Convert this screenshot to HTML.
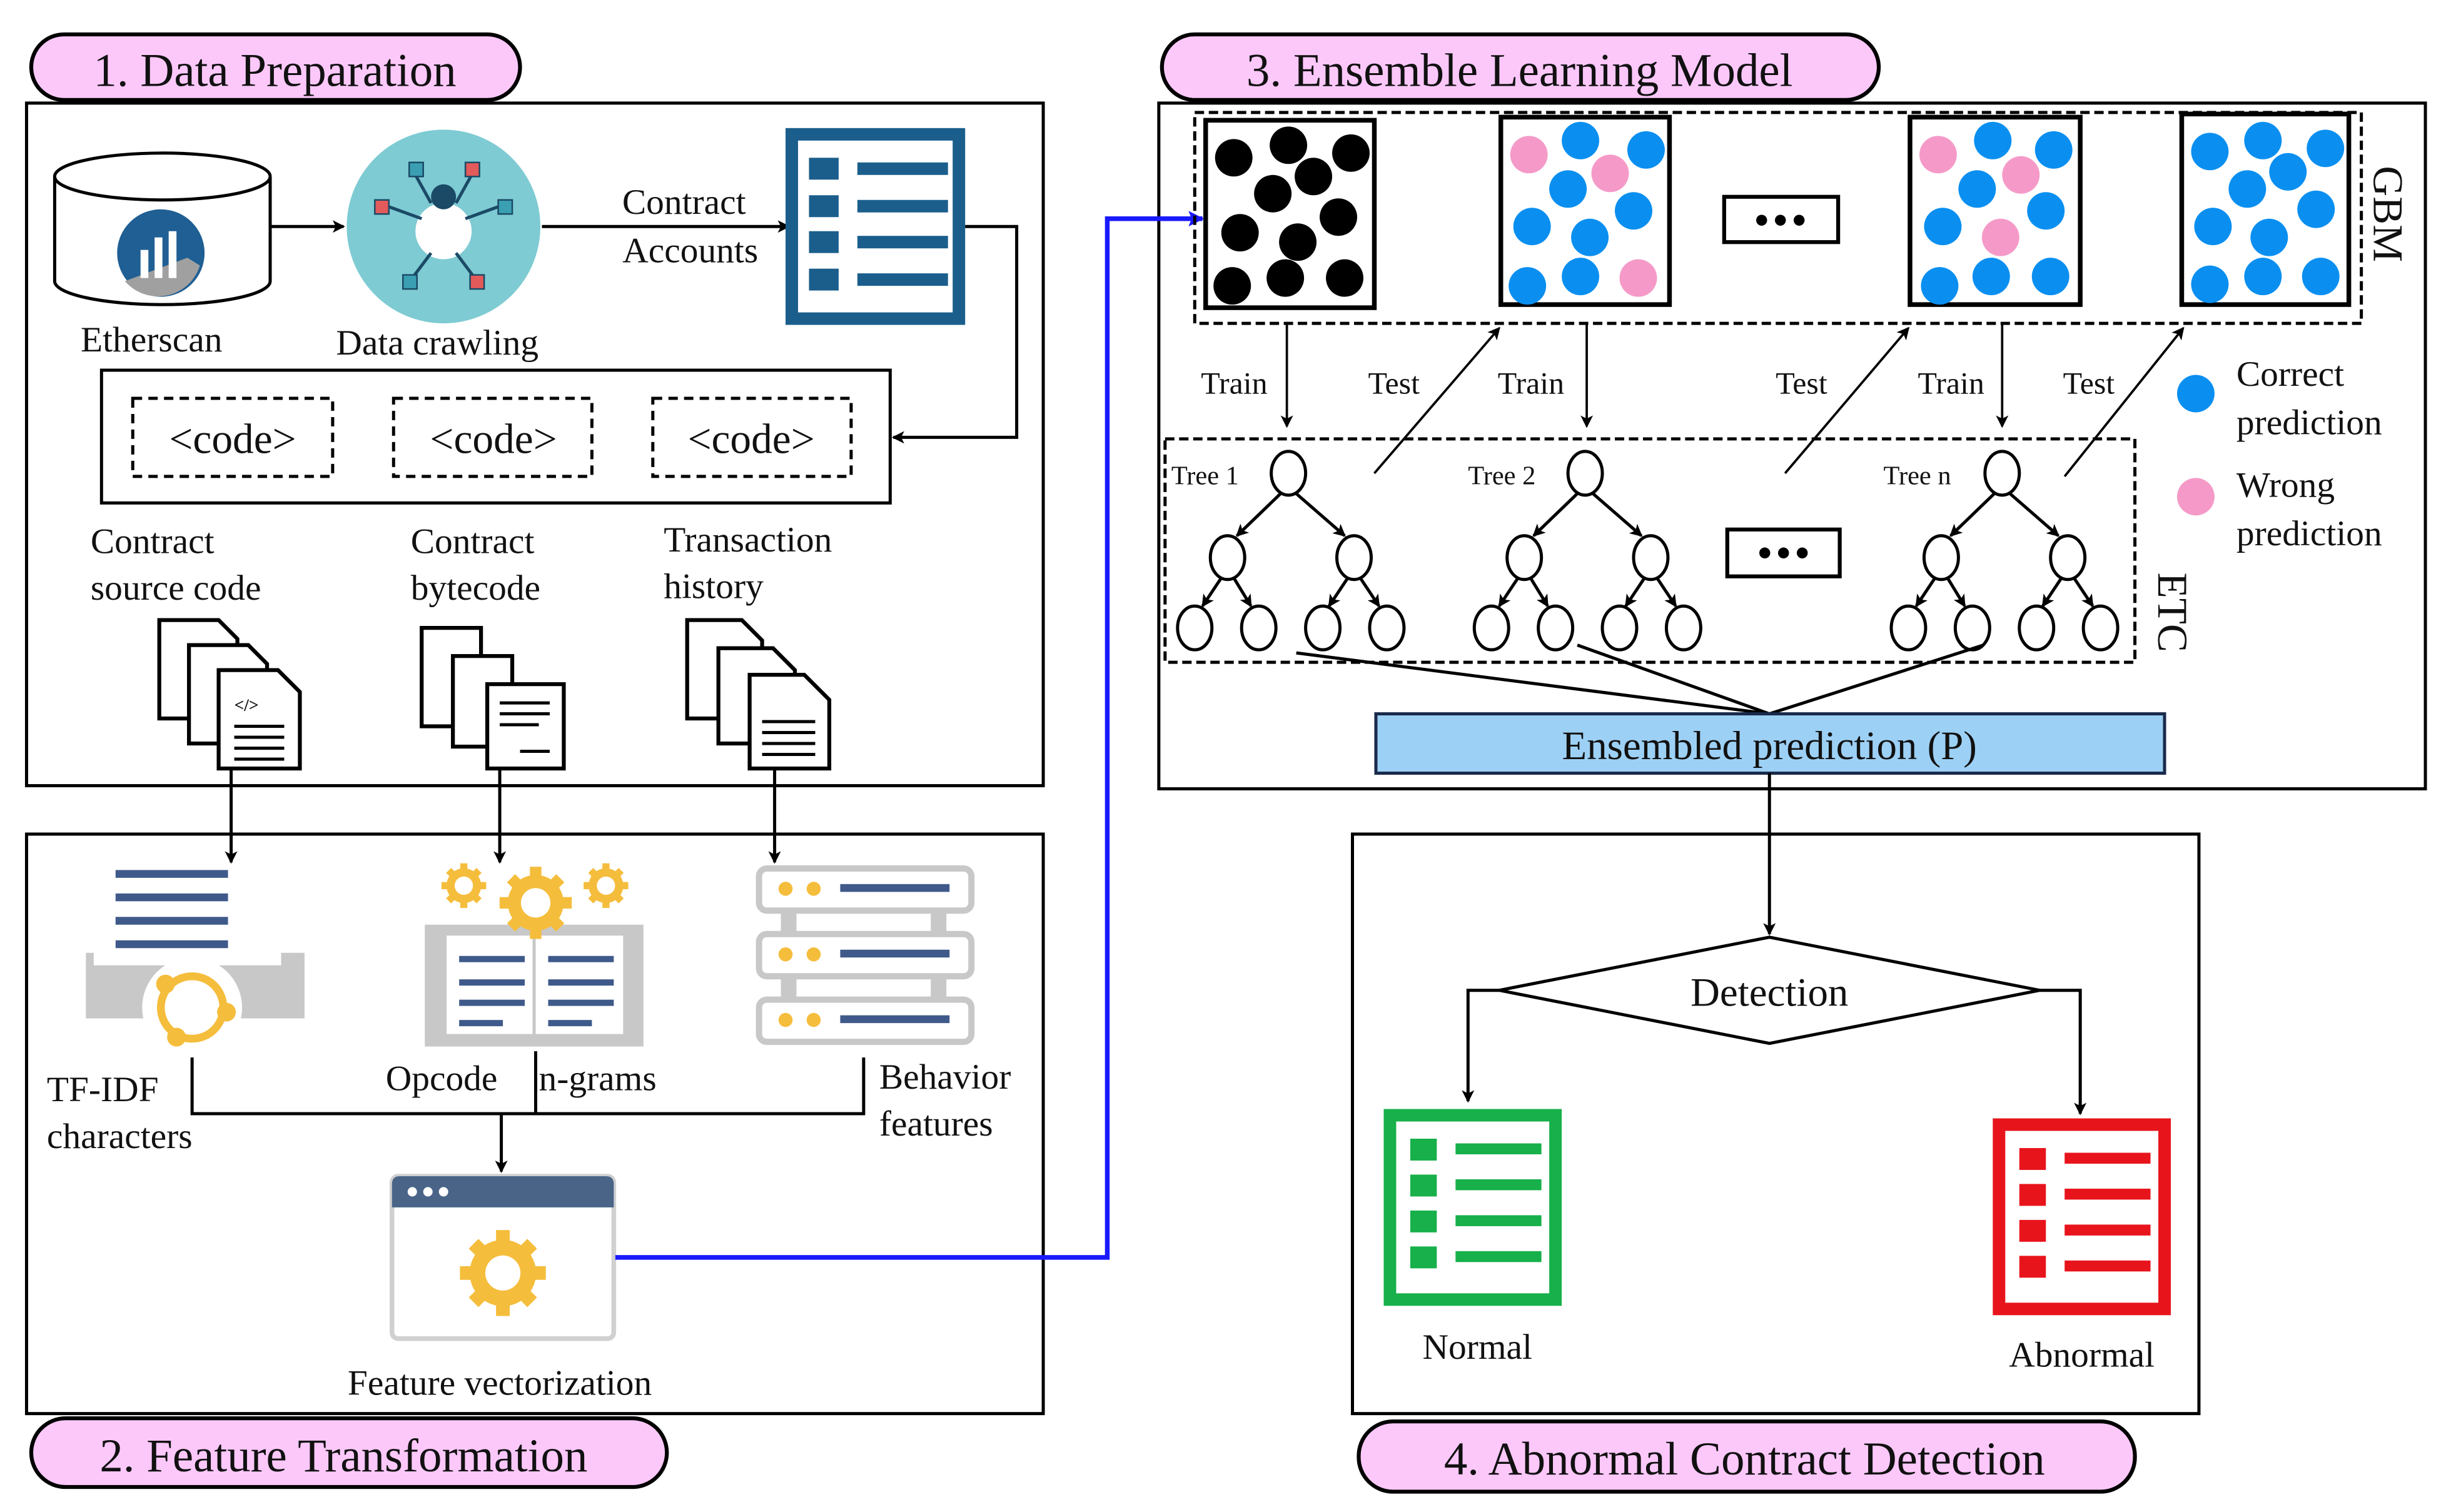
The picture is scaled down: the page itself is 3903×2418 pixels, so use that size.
<!DOCTYPE html>
<html><head><meta charset="utf-8"><style>
html,body{margin:0;padding:0;background:#fff;}
svg{display:block;}
text{font-family:"Liberation Serif",serif;fill:#111;}
</style></head><body>
<svg width="3903" height="2418" viewBox="0 0 1563 968" preserveAspectRatio="none" xmlns="http://www.w3.org/2000/svg">
<defs>
<marker id="a" markerWidth="8" markerHeight="8" refX="7" refY="4" orient="auto" markerUnits="userSpaceOnUse"><path d="M0,0 L8,4 L0,8 L2,4 z" fill="#000"/></marker>
<marker id="ab" markerWidth="10" markerHeight="10" refX="9" refY="5" orient="auto" markerUnits="userSpaceOnUse"><path d="M0,0 L10,5 L0,10 L2,5 z" fill="#1a1aff"/></marker>
<g id="gear"><circle r="13" fill="none" stroke="#f5bd3c" stroke-width="8"/><g stroke="#f5bd3c" stroke-width="7"><line x1="0" y1="-22" x2="0" y2="22"/><line x1="-22" y1="0" x2="22" y2="0"/><line x1="-15" y1="-15" x2="15" y2="15"/><line x1="-15" y1="15" x2="15" y2="-15"/></g><circle r="9" fill="#fff"/></g>
</defs>

<!-- Boxes -->
<rect x="17" y="66" width="651" height="437" fill="none" stroke="#000" stroke-width="2"/>
<rect x="17" y="534" width="651" height="371" fill="none" stroke="#000" stroke-width="2"/>
<rect x="742" y="66" width="811" height="439" fill="none" stroke="#000" stroke-width="2"/>
<rect x="866" y="534" width="542" height="371" fill="none" stroke="#000" stroke-width="2"/>

<!-- Titles -->
<rect x="20" y="22" width="313" height="42" rx="21" fill="#fcc8fa" stroke="#000" stroke-width="2.5"/>
<text x="176" y="55" font-size="30" text-anchor="middle">1. Data Preparation</text>
<rect x="744" y="22" width="459" height="42" rx="21" fill="#fcc8fa" stroke="#000" stroke-width="2.5"/>
<text x="973" y="55" font-size="30" text-anchor="middle">3. Ensemble Learning Model</text>
<rect x="20" y="908" width="407" height="44" rx="22" fill="#fcc8fa" stroke="#000" stroke-width="2.5"/>
<text x="220" y="942" font-size="30" text-anchor="middle">2. Feature Transformation</text>
<rect x="870" y="910" width="497" height="45" rx="22" fill="#fcc8fa" stroke="#000" stroke-width="2.5"/>
<text x="1117" y="944" font-size="30" text-anchor="middle">4. Abnormal Contract Detection</text>

<!-- Section 1 -->
<path d="M35,113 L35,180 A69,15 0 0 0 173,180 L173,113" fill="#fff" stroke="#000" stroke-width="2"/>
<ellipse cx="104" cy="113" rx="69" ry="15" fill="#fff" stroke="#000" stroke-width="2"/>
<circle cx="103" cy="162" r="28" fill="#1f5f93"/>
<path d="M80,180 A28,28 0 0 0 128,170 L120,165 Z" fill="#a0a0a0"/>
<rect x="90" y="160" width="5" height="18" fill="#fff"/><rect x="99" y="152" width="5" height="26" fill="#fff"/><rect x="108" y="148" width="5" height="30" fill="#fff"/>
<text x="97" y="225" font-size="23" text-anchor="middle">Etherscan</text>
<line x1="173" y1="145" x2="220" y2="145" stroke="#000" stroke-width="2" marker-end="url(#a)"/>
<circle cx="284" cy="145" r="62" fill="#7ecbd3"/>
<circle cx="284" cy="148" r="18" fill="#fff"/><circle cx="284" cy="126" r="8" fill="#1b4a66"/>
<g stroke="#1b4a66" stroke-width="2" fill="none"><path d="M270,140 L248,132"/><path d="M298,140 L320,132"/><path d="M276,130 L266,112"/><path d="M292,130 L302,112"/><path d="M276,162 L264,178"/><path d="M292,162 L304,178"/></g>
<rect x="262" y="104" width="9" height="9" fill="#3a9fb2" stroke="#1b4a66"/><rect x="298" y="104" width="9" height="9" fill="#e35a5a" stroke="#1b4a66"/>
<rect x="240" y="128" width="9" height="9" fill="#e35a5a" stroke="#1b4a66"/><rect x="319" y="128" width="9" height="9" fill="#3a9fb2" stroke="#1b4a66"/>
<rect x="258" y="176" width="9" height="9" fill="#3a9fb2" stroke="#1b4a66"/><rect x="301" y="176" width="9" height="9" fill="#e35a5a" stroke="#1b4a66"/>
<text x="280" y="227" font-size="23" text-anchor="middle">Data crawling</text>
<line x1="347" y1="145" x2="505" y2="145" stroke="#000" stroke-width="2" marker-end="url(#a)"/>
<text x="438" y="137" font-size="23" text-anchor="middle">Contract</text>
<text x="442" y="168" font-size="23" text-anchor="middle">Accounts</text>
<rect x="507" y="86" width="107" height="118" fill="#fff" stroke="#1b5e8c" stroke-width="8"/>
<g fill="#1b5e8c"><rect x="518" y="101" width="19" height="14"/><rect x="549" y="104" width="58" height="8"/><rect x="518" y="125" width="19" height="14"/><rect x="549" y="128" width="58" height="8"/><rect x="518" y="148" width="19" height="14"/><rect x="549" y="151" width="58" height="8"/><rect x="518" y="172" width="19" height="14"/><rect x="549" y="175" width="58" height="8"/></g>
<polyline points="618,145 651,145 651,280 572,280" fill="none" stroke="#000" stroke-width="2" marker-end="url(#a)"/>
<rect x="65" y="237" width="505" height="85" fill="none" stroke="#000" stroke-width="2"/>
<g fill="none" stroke="#000" stroke-width="2" stroke-dasharray="6,4"><rect x="85" y="255" width="128" height="50"/><rect x="252" y="255" width="127" height="50"/><rect x="418" y="255" width="127" height="50"/></g>
<text x="149" y="290" font-size="27" text-anchor="middle">&lt;code&gt;</text>
<text x="316" y="290" font-size="27" text-anchor="middle">&lt;code&gt;</text>
<text x="481" y="290" font-size="27" text-anchor="middle">&lt;code&gt;</text>
<g font-size="23"><text x="58" y="354">Contract</text><text x="58" y="384">source code</text><text x="263" y="354">Contract</text><text x="263" y="384">bytecode</text><text x="425" y="353">Transaction</text><text x="425" y="383">history</text></g>
<!-- file icons -->
<g fill="#fff" stroke="#000" stroke-width="2.5">
<path d="M102,397 L140,397 L152,409 L152,460 L102,460 Z"/><path d="M121,413 L159,413 L171,425 L171,476 L121,476 Z"/><path d="M140,429 L178,429 L192,443 L192,492 L140,492 Z"/>
<path d="M270,402 L308,402 L308,465 L270,465 Z"/><path d="M290,420 L328,420 L328,478 L290,478 Z"/><path d="M312,438 L361,438 L361,492 L312,492 Z"/>
<path d="M440,397 L475,397 L488,410 L488,460 L440,460 Z"/><path d="M460,415 L495,415 L509,429 L509,476 L460,476 Z"/><path d="M480,432 L515,432 L531,448 L531,492 L480,492 Z"/>
</g>
<g stroke="#000" stroke-width="2"><line x1="150" y1="465" x2="182" y2="465"/><line x1="150" y1="472" x2="182" y2="472"/><line x1="150" y1="479" x2="182" y2="479"/><line x1="150" y1="486" x2="182" y2="486"/>
<line x1="320" y1="450" x2="352" y2="450"/><line x1="320" y1="457" x2="352" y2="457"/><line x1="320" y1="464" x2="345" y2="464"/><line x1="333" y1="481" x2="352" y2="481"/>
<line x1="488" y1="462" x2="522" y2="462"/><line x1="488" y1="469" x2="522" y2="469"/><line x1="488" y1="476" x2="522" y2="476"/><line x1="488" y1="483" x2="522" y2="483"/></g>
<text x="150" y="455" font-size="11" font-weight="bold">&lt;/&gt;</text>
<g stroke="#000" stroke-width="2"><line x1="148" y1="492" x2="148" y2="552" marker-end="url(#a)"/><line x1="320" y1="492" x2="320" y2="552" marker-end="url(#a)"/><line x1="496" y1="492" x2="496" y2="552" marker-end="url(#a)"/></g>

<!-- Section 2 -->
<g fill="#3f5a8a"><rect x="74" y="557" width="72" height="5"/><rect x="74" y="572" width="72" height="5"/><rect x="74" y="587" width="72" height="5"/><rect x="74" y="602" width="72" height="5"/></g>
<path d="M55,610 L60,610 L60,618 L180,618 L180,610 L195,610 L195,652 L165,652 L55,652 Z" fill="#c8c8c8"/>
<circle cx="123" cy="645" r="32" fill="#fff"/>
<circle cx="123" cy="645" r="20" fill="none" stroke="#f5bd3c" stroke-width="5"/>
<circle cx="106" cy="630" r="6" fill="#f5bd3c"/><circle cx="145" cy="648" r="6" fill="#f5bd3c"/><circle cx="113" cy="664" r="6" fill="#f5bd3c"/>
<rect x="272" y="592" width="140" height="78" fill="#c8c8c8"/>
<rect x="285" y="598" width="115" height="65" fill="#fff" stroke="#c8c8c8" stroke-width="2"/>
<line x1="342" y1="598" x2="342" y2="663" stroke="#c8c8c8" stroke-width="2"/>
<g fill="#3f5a8a"><rect x="294" y="612" width="42" height="4"/><rect x="351" y="612" width="42" height="4"/><rect x="294" y="627" width="42" height="4"/><rect x="351" y="627" width="42" height="4"/><rect x="294" y="640" width="42" height="4"/><rect x="351" y="640" width="42" height="4"/><rect x="294" y="653" width="28" height="4"/><rect x="351" y="653" width="28" height="4"/></g>
<use href="#gear" transform="translate(343,578) scale(1.05)"/>
<use href="#gear" transform="translate(297,567) scale(0.65)"/>
<use href="#gear" transform="translate(388,567) scale(0.65)"/>
<g fill="#fff" stroke="#c8c8c8" stroke-width="4"><rect x="486" y="556" width="136" height="27" rx="5"/><rect x="486" y="598" width="136" height="27" rx="5"/><rect x="486" y="640" width="136" height="27" rx="5"/></g>
<g fill="#c8c8c8"><rect x="500" y="584" width="10" height="13"/><rect x="596" y="584" width="10" height="13"/><rect x="500" y="626" width="10" height="13"/><rect x="596" y="626" width="10" height="13"/></g>
<g fill="#f5bd3c"><circle cx="503" cy="569" r="4.5"/><circle cx="521" cy="569" r="4.5"/><circle cx="503" cy="611" r="4.5"/><circle cx="521" cy="611" r="4.5"/><circle cx="503" cy="653" r="4.5"/><circle cx="521" cy="653" r="4.5"/></g>
<g fill="#3f5a8a"><rect x="538" y="566" width="70" height="5"/><rect x="538" y="608" width="70" height="5"/><rect x="538" y="650" width="70" height="5"/></g>
<g font-size="23"><text x="30" y="705">TF-IDF</text><text x="30" y="735">characters</text><text x="247" y="698">Opcode</text><text x="345" y="698">n-grams</text><text x="563" y="697">Behavior</text><text x="563" y="727">features</text></g>
<polyline points="123,677 123,713 553,713 553,677" fill="none" stroke="#000" stroke-width="2"/>
<line x1="343" y1="673" x2="343" y2="713" stroke="#000" stroke-width="2"/>
<line x1="321" y1="713" x2="321" y2="750" stroke="#000" stroke-width="2" marker-end="url(#a)"/>
<rect x="251" y="753" width="142" height="104" rx="4" fill="#fff" stroke="#d0d0d0" stroke-width="3"/>
<path d="M251,773 L251,758 Q251,753 256,753 L388,753 Q393,753 393,758 L393,773 Z" fill="#4a6488"/>
<g fill="#fff"><circle cx="264" cy="763" r="3"/><circle cx="274" cy="763" r="3"/><circle cx="284" cy="763" r="3"/></g>
<use href="#gear" transform="translate(322,815) scale(1.25)"/>
<text x="320" y="893" font-size="23" text-anchor="middle">Feature vectorization</text>
<polyline points="394,805 709,805 709,140 770,140" fill="none" stroke="#1a1aff" stroke-width="3" marker-end="url(#ab)"/>

<!-- Section 3 -->
<rect x="765" y="72" width="747" height="135" fill="none" stroke="#000" stroke-width="2" stroke-dasharray="6,3"/>
<g fill="#fff" stroke="#000" stroke-width="3"><rect x="772" y="77" width="108" height="120"/><rect x="961" y="75" width="108" height="120"/><rect x="1223" y="75" width="109" height="120"/><rect x="1397" y="73" width="107" height="122"/></g>
<g fill="#000"><circle cx="790" cy="101" r="12"/><circle cx="825" cy="93" r="12"/><circle cx="865" cy="98" r="12"/><circle cx="841" cy="113" r="12"/><circle cx="815" cy="124" r="12"/><circle cx="857" cy="139" r="12"/><circle cx="794" cy="149" r="12"/><circle cx="831" cy="155" r="12"/><circle cx="789" cy="183" r="12"/><circle cx="823" cy="178" r="12"/><circle cx="861" cy="178" r="12"/></g>
<g fill="#0a8ff0">
<circle cx="1012" cy="90" r="12"/><circle cx="1054" cy="96" r="12"/><circle cx="1004" cy="121" r="12"/><circle cx="1046" cy="135" r="12"/><circle cx="981" cy="145" r="12"/><circle cx="1018" cy="152" r="12"/><circle cx="978" cy="183" r="12"/><circle cx="1012" cy="177" r="12"/>
<circle cx="1276" cy="90" r="12"/><circle cx="1315" cy="96" r="12"/><circle cx="1266" cy="121" r="12"/><circle cx="1310" cy="135" r="12"/><circle cx="1244" cy="145" r="12"/><circle cx="1242" cy="183" r="12"/><circle cx="1275" cy="177" r="12"/><circle cx="1313" cy="177" r="12"/>
<circle cx="1415" cy="97" r="12"/><circle cx="1449" cy="90" r="12"/><circle cx="1489" cy="95" r="12"/><circle cx="1465" cy="110" r="12"/><circle cx="1439" cy="121" r="12"/><circle cx="1483" cy="134" r="12"/><circle cx="1417" cy="145" r="12"/><circle cx="1453" cy="152" r="12"/><circle cx="1415" cy="182" r="12"/><circle cx="1449" cy="177" r="12"/><circle cx="1486" cy="177" r="12"/>
<circle cx="1406" cy="252" r="12"/></g>
<g fill="#f59ac8"><circle cx="979" cy="99" r="12"/><circle cx="1031" cy="111" r="12"/><circle cx="1049" cy="178" r="12"/><circle cx="1241" cy="99" r="12"/><circle cx="1294" cy="112" r="12"/><circle cx="1281" cy="152" r="12"/><circle cx="1406" cy="318" r="12"/></g>
<rect x="1104" y="126" width="73" height="29" fill="#fff" stroke="#000" stroke-width="2.5"/>
<g fill="#000"><circle cx="1128" cy="141" r="3.5"/><circle cx="1140" cy="141" r="3.5"/><circle cx="1152" cy="141" r="3.5"/></g>
<text transform="translate(1520,137) rotate(90)" font-size="27" text-anchor="middle">GBM</text>
<g stroke="#000" stroke-width="1.5"><line x1="824" y1="207" x2="824" y2="273" marker-end="url(#a)"/><line x1="1016" y1="207" x2="1016" y2="273" marker-end="url(#a)"/><line x1="1282" y1="207" x2="1282" y2="273" marker-end="url(#a)"/>
<line x1="880" y1="303" x2="960" y2="210" marker-end="url(#a)"/><line x1="1143" y1="303" x2="1222" y2="210" marker-end="url(#a)"/><line x1="1322" y1="305" x2="1398" y2="210" marker-end="url(#a)"/></g>
<g font-size="20"><text x="769" y="252">Train</text><text x="876" y="252">Test</text><text x="959" y="252">Train</text><text x="1137" y="252">Test</text><text x="1228" y="252">Train</text><text x="1321" y="252">Test</text></g>
<g font-size="23"><text x="1432" y="247">Correct</text><text x="1432" y="278">prediction</text><text x="1432" y="318">Wrong</text><text x="1432" y="349">prediction</text></g>
<rect x="746" y="281" width="621" height="143" fill="none" stroke="#000" stroke-width="2" stroke-dasharray="6,3"/>
<text transform="translate(1382,392) rotate(90)" font-size="27" text-anchor="middle">ETC</text>
<g font-size="17"><text x="750" y="310">Tree 1</text><text x="940" y="310">Tree 2</text><text x="1206" y="310">Tree n</text></g>
<rect x="1106" y="339" width="72" height="30" fill="#fff" stroke="#000" stroke-width="2.5"/>
<g fill="#000"><circle cx="1130" cy="354" r="3.5"/><circle cx="1142" cy="354" r="3.5"/><circle cx="1154" cy="354" r="3.5"/></g>
<g id="tree" fill="#fff" stroke="#000" stroke-width="2">
<line x1="820" y1="316" x2="792" y2="343" marker-end="url(#a)"/><line x1="830" y1="316" x2="861" y2="343" marker-end="url(#a)"/>
<line x1="782" y1="370" x2="770" y2="388" marker-end="url(#a)"/><line x1="790" y1="370" x2="801" y2="388" marker-end="url(#a)"/>
<line x1="863" y1="370" x2="851" y2="388" marker-end="url(#a)"/><line x1="871" y1="370" x2="883" y2="388" marker-end="url(#a)"/>
<ellipse cx="825" cy="303" rx="11" ry="14"/><ellipse cx="786" cy="357" rx="11" ry="14"/><ellipse cx="867" cy="357" rx="11" ry="14"/>
<ellipse cx="765" cy="402" rx="11" ry="14"/><ellipse cx="806" cy="402" rx="11" ry="14"/><ellipse cx="847" cy="402" rx="11" ry="14"/><ellipse cx="888" cy="402" rx="11" ry="14"/>
</g>
<use href="#tree" transform="translate(190,0)"/>
<use href="#tree" transform="translate(457,0)"/>
<g stroke="#000" stroke-width="2"><line x1="830" y1="418" x2="1133" y2="457"/><line x1="1010" y1="413" x2="1133" y2="457"/><line x1="1270" y1="413" x2="1133" y2="457"/></g>
<rect x="881" y="457" width="505" height="38" fill="#9dd0f5" stroke="#1a2a4a" stroke-width="2"/>
<text x="1133" y="486" font-size="26" text-anchor="middle">Ensembled prediction (P)</text>
<line x1="1133" y1="495" x2="1133" y2="598" stroke="#000" stroke-width="2" marker-end="url(#a)"/>

<!-- Section 4 -->
<polygon points="960,634 1133,600 1306,634 1133,668" fill="#fff" stroke="#000" stroke-width="2"/>
<text x="1133" y="644" font-size="26" text-anchor="middle">Detection</text>
<polyline points="960,634 940,634 940,705" fill="none" stroke="#000" stroke-width="2" marker-end="url(#a)"/>
<polyline points="1306,634 1332,634 1332,713" fill="none" stroke="#000" stroke-width="2" marker-end="url(#a)"/>
<rect x="890" y="714" width="106" height="118" fill="#fff" stroke="#17b04a" stroke-width="8"/>
<g fill="#17b04a"><rect x="903" y="729" width="17" height="14"/><rect x="932" y="732" width="55" height="7"/><rect x="903" y="752" width="17" height="14"/><rect x="932" y="755" width="55" height="7"/><rect x="903" y="775" width="17" height="14"/><rect x="932" y="778" width="55" height="7"/><rect x="903" y="798" width="17" height="14"/><rect x="932" y="801" width="55" height="7"/></g>
<rect x="1280" y="720" width="106" height="118" fill="#fff" stroke="#e8141c" stroke-width="8"/>
<g fill="#e8141c"><rect x="1293" y="735" width="17" height="14"/><rect x="1322" y="738" width="55" height="7"/><rect x="1293" y="758" width="17" height="14"/><rect x="1322" y="761" width="55" height="7"/><rect x="1293" y="781" width="17" height="14"/><rect x="1322" y="784" width="55" height="7"/><rect x="1293" y="804" width="17" height="14"/><rect x="1322" y="807" width="55" height="7"/></g>
<text x="946" y="870" font-size="23" text-anchor="middle">Normal</text>
<text x="1333" y="875" font-size="23" text-anchor="middle">Abnormal</text>
</svg>
</body></html>
